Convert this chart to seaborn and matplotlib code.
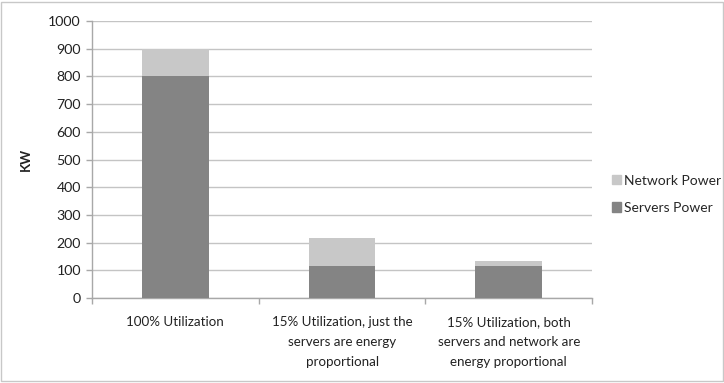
import matplotlib
matplotlib.use("Agg")
import matplotlib.pyplot as plt
import matplotlib.patches as mpatches
import seaborn as sns
import pandas as pd

categories = [
    "100% Utilization",
    "15% Utilization, just the\nservers are energy\nproportional",
    "15% Utilization, both\nservers and network are\nenergy proportional",
]
servers_power = [800, 115, 115]
network_power = [100, 100, 20]
y_ticks = list(range(0, 1001, 100))

SERVER_COLOR = "#848484"
NETWORK_COLOR = "#c8c8c8"
GRID_COLOR = "#c4c4c4"
TEXT_COLOR = "#222222"
FS = 9.6

sns.set_theme(style="white")
plt.rcParams["font.family"] = ["Lato", "DejaVu Sans"]

df = pd.DataFrame({
    "category": categories,
    "servers": servers_power,
    "total": [s + n for s, n in zip(servers_power, network_power)],
})

fig = plt.figure(figsize=(7.24, 3.83), dpi=100)
ax = fig.add_axes([0.127, 0.222, 0.691, 0.723])

# stacked bars: full height in light gray, servers share drawn over it
sns.barplot(data=df, x="category", y="total", color=NETWORK_COLOR,
            width=0.4, saturation=1, linewidth=0, ax=ax, zorder=2)
sns.barplot(data=df, x="category", y="servers", color=SERVER_COLOR,
            width=0.4, saturation=1, linewidth=0, ax=ax, zorder=3)

ax.set_ylim(0, 1000)
ax.set_xlim(-0.5, 2.5)
ax.set_yticks(y_ticks)
ax.yaxis.grid(True, color=GRID_COLOR, linewidth=1.0, zorder=0)
ax.set_axisbelow(True)

for side in ("top", "right"):
    ax.spines[side].set_visible(False)
for side in ("left", "bottom"):
    ax.spines[side].set_color("#a8a8a8")
    ax.spines[side].set_linewidth(1.0)

ax.tick_params(axis="y", which="both", left=True, length=4, width=1,
               color="#a8a8a8", labelsize=FS + 0.6, labelcolor=TEXT_COLOR, pad=4)
# category separators on the x axis
ax.set_xticks([0, 1, 2])
ax.set_xticklabels(categories, fontsize=FS, color=TEXT_COLOR, linespacing=1.8)
ax.tick_params(axis="x", bottom=False, pad=7)
ax.set_xticks([-0.5, 0.5, 1.5, 2.5], minor=True)
ax.tick_params(axis="x", which="minor", bottom=True, length=4, width=1,
               color="#a8a8a8")

ax.set_xlabel("")
ax.set_ylabel("KW", fontsize=FS, fontweight="bold", color=TEXT_COLOR, labelpad=12)

handles = [
    mpatches.Patch(color=NETWORK_COLOR, label="Network Power"),
    mpatches.Patch(color=SERVER_COLOR, label="Servers Power"),
]
fig.legend(handles=handles, loc="center left", bbox_to_anchor=(0.837, 0.493),
           frameon=False, fontsize=10.0, handlelength=0.65, handleheight=0.65,
           handletextpad=0.25, labelspacing=1.1, borderaxespad=0)

# thin frame around the whole chart
fig.patches.append(mpatches.Rectangle((0.002, 0.004), 0.996, 0.992,
                                      transform=fig.transFigure, fill=False,
                                      edgecolor="#c8c8c8", linewidth=1.0))

fig.savefig("out.png", dpi=100)
